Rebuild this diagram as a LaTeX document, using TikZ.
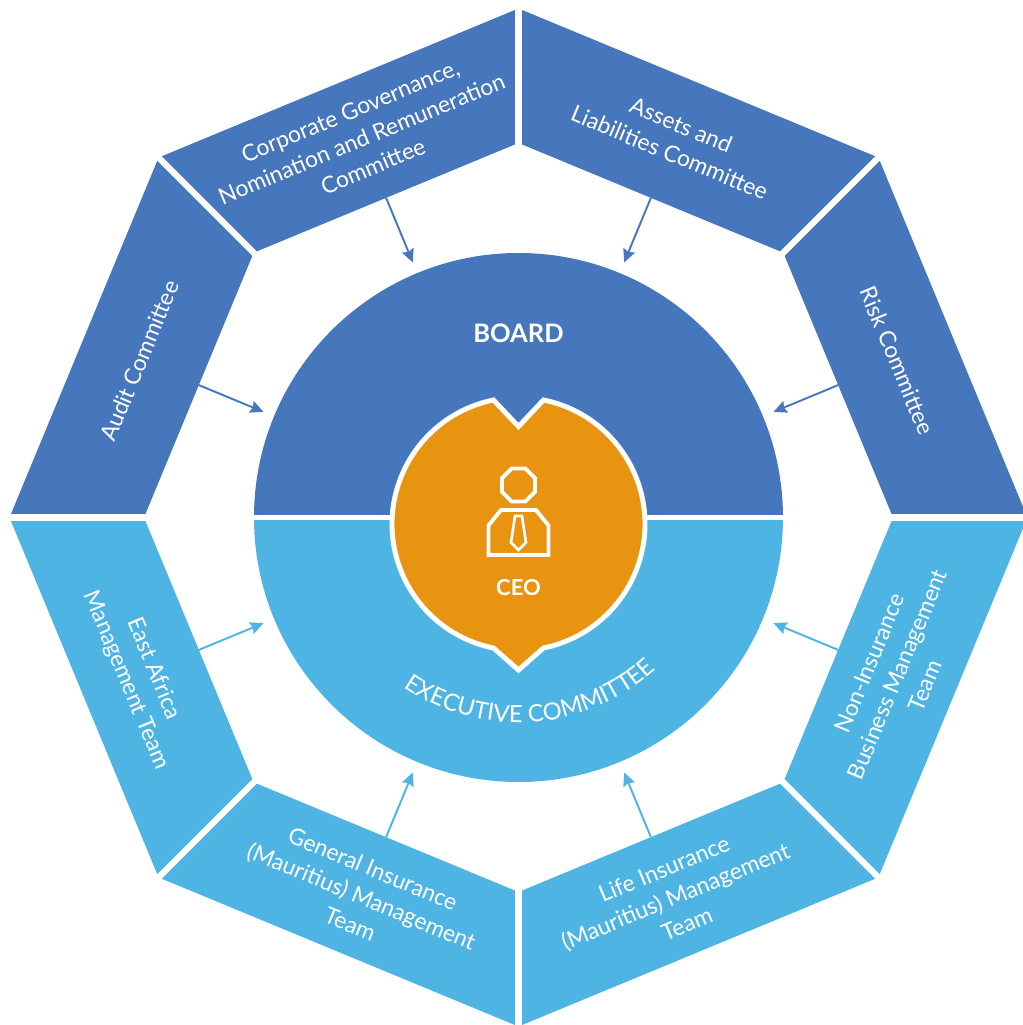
\documentclass[tikz,border=0pt]{standalone}
\usepackage{fontspec}
\setmainfont{Lato}
\usetikzlibrary{arrows.meta,decorations.text}
\definecolor{boardblue}{RGB}{70,119,189}
\definecolor{execblue}{RGB}{78,180,228}
\definecolor{ceoorange}{RGB}{232,148,16}

\begin{document}
\begin{tikzpicture}[x=0.02cm, y=0.02cm,
	segtext/.style={text=white, align=center, font=\fontsize{13}{17}\selectfont},
	feed/.style={-{Stealth[length=7.5pt, width=7pt, inset=1pt]}, line width=1.1pt},
	gap/.style={white, line width=3.6pt},
	ceoline/.style={white, line width=2.2pt}]
\useasboundingbox (-518.5,-507.5) rectangle (503.5,517.5);
\foreach \ang/\rot/\col/\nm/\txt in {
	112.5/22.5/boardblue/cgnrc/{Corporate Governance,\\Nomination and Remuneration\\Committee},
	67.5/-22.5/boardblue/alc/{Assets and\\Liabilities Committee},
	157.5/67.5/boardblue/audit/{Audit Committee},
	22.5/-67.5/boardblue/risk/{Risk Committee},
	-22.5/67.5/execblue/nonins/{Non-Insurance\\Business Management\\Team},
	-67.5/22.5/execblue/lifeins/{Life Insurance\\(Mauritius) Management\\Team},
	-112.5/-22.5/execblue/genins/{General Insurance\\(Mauritius) Management\\Team},
	-157.5/-67.5/execblue/eastafr/{East Africa\\Management Team}}
{
	\fill[\col] (\ang-22.5:509) -- (\ang+22.5:509) -- (\ang+22.5:374.5) -- (\ang-22.5:374.5) -- cycle;
	\node[segtext, rotate=\rot] (\nm) at (\ang:410) {\txt};
	\coordinate (\nm-out) at (\ang:346);
	\coordinate (\nm-in) at (\ang:276);
	\draw[feed, \col] (\nm-out) -- (\nm-in);
}
\foreach \v in {0,45,...,315}
	\draw[gap] (\v:365) -- (\v:525);

\fill[boardblue] (264.5,0) arc[start angle=0, end angle=180, radius=264.5] -- cycle;
\fill[execblue] (-264.5,0) arc[start angle=180, end angle=360, radius=264.5] -- cycle;
\draw[gap, line width=2.8pt] (-267,0) -- (267,0);
\node[text=white, font=\bfseries\fontsize{14.5}{17}\selectfont] (board) at (0,184.5) {BOARD};
\path[decorate, decoration={text along path, text align=center, text color=white,
	text={|\fontsize{13.5}{16}\selectfont|EXECUTIVE COMMITTEE}}]
	(-136:205) arc[start angle=-136, end angle=-36, radius=205];

\filldraw[fill=ceoorange, draw=white, line width=2.8pt] (25,117.5) arc[start angle=78.6, end angle=-78.6, radius=126.5]
	-- (0,-152.5) -- (-25,-130.5) arc[start angle=-101.4, end angle=-258.6, radius=126.5] -- (0,91) -- cycle;
\draw[ceoline, shift={(0,32.5)}] (22.5:17.9) -- (67.5:17.9) -- (112.5:17.9) -- (157.5:17.9)
	-- (202.5:17.9) -- (247.5:17.9) -- (292.5:17.9) -- (337.5:17.9) -- cycle;
\draw[ceoline] (-30,-37.5) -- (-30,-8) -- (-17.5,7.5) -- (17.5,7.5) -- (30,-8) -- (30,-37.5) -- cycle;
\draw[ceoline, line width=1.5pt] (-3.5,1.5) -- (3.5,1.5) -- (7.5,-25) -- (0,-32.5) -- (-7.5,-25) -- cycle;
\node[text=white, font=\bfseries\fontsize{12.5}{15}\selectfont] (ceo) at (0,-70.5) {CEO};
\end{tikzpicture}
\end{document}
